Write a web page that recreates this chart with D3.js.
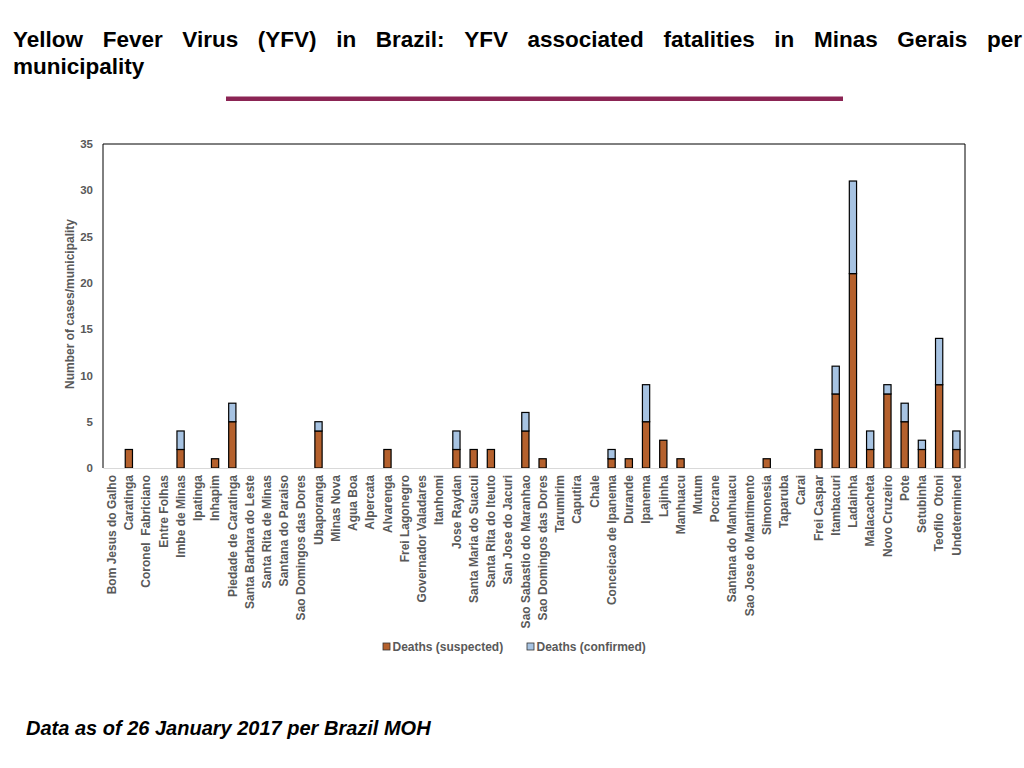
<!DOCTYPE html>
<html>
<head>
<meta charset="utf-8">
<script src="https://cdn.jsdelivr.net/npm/d3@7"></script>
<style>
  body { margin: 0; background: #fff; }
  svg { display: block; }
</style>
</head>
<body>
<div id="chart"></div>
<script>
// municipalities, in the order of the x axis
const municipalities = [
  "Bom Jesus do Galho", "Caratinga", "Coronel  Fabriciano", "Entre Folhas", "Imbe de Minas",
  "Ipatinga", "Inhapim", "Piedade de Caratinga", "Santa Barbara do Leste", "Santa Rita de Minas",
  "Santana do Paraiso", "Sao Domingos das Dores", "Ubaporanga", "Minas Nova", "Agua Boa",
  "Alpercata", "Alvarenga", "Frei Lagonegro", "Governador Valadares", "Itanhomi",
  "Jose Raydan", "Santa Maria do Suacui", "Santa Rita do Iteuto", "San Jose do Jacuri", "Sao Sabastio do Maranhao",
  "Sao Domingos das Dores", "Tarumirim", "Caputira", "Chale", "Conceicao de Ipanema",
  "Durande", "Ipanema", "Lajinha", "Manhuacu", "Mutum",
  "Pocrane", "Santana do Manhuacu", "Sao Jose do Mantimento", "Simonesia", "Taparuba",
  "Carai", "Frei Caspar", "Itambacuri", "Ladainha", "Malacacheta",
  "Novo Cruzeiro", "Pote", "Setubinha", "Teofilo  Otoni", "Undetermined"
];

const deathsSuspected = [
  0, 2, 0, 0, 2,  0, 1, 5, 0, 0,  0, 0, 4, 0, 0,  0, 2, 0, 0, 0,
  2, 2, 2, 0, 4,  1, 0, 0, 0, 1,  1, 5, 3, 1, 0,  0, 0, 0, 1, 0,
  0, 2, 8, 21, 2, 8, 5, 2, 9, 2
];

const deathsConfirmed = [
  0, 0, 0, 0, 2,  0, 0, 2, 0, 0,  0, 0, 1, 0, 0,  0, 0, 0, 0, 0,
  2, 0, 0, 0, 2,  0, 0, 0, 0, 1,  0, 4, 0, 0, 0,  0, 0, 0, 0, 0,
  0, 0, 3, 10, 2, 1, 2, 1, 5, 2
];

const seriesNames = ["Deaths (suspected)", "Deaths (confirmed)"];
const yTicks = [0, 5, 10, 15, 20, 25, 30, 35];

const titleLines = [
  "Yellow Fever Virus (YFV) in Brazil: YFV associated fatalities in Minas Gerais per",
  "municipality"
];
const footnote = "Data as of 26 January 2017 per Brazil MOH";

const width = 1024, height = 768;
const plot = { left: 103, right: 965, top: 144, bottom: 468 };
const colors = ["#b5612d", "#a7c3e2"];
const grey = "#595959";
const sans = "'Liberation Sans', Arial, Helvetica, sans-serif";

const svg = d3.select("#chart").append("svg")
    .attr("width", width)
    .attr("height", height);

// table for the stack layout
const table = municipalities.map((m, i) => ({
  key: i, name: m, suspected: deathsSuspected[i], confirmed: deathsConfirmed[i]
}));
const stack = d3.stack().keys(["suspected", "confirmed"])(table);

const x = d3.scaleBand()
    .domain(table.map(d => d.key))
    .range([plot.left, plot.right])
    .paddingInner(0.58)
    .paddingOuter(0.29);

const y = d3.scaleLinear()
    .domain([0, 35])
    .range([plot.bottom, plot.top]);

// title, justified on the first line
const title = svg.append("g")
    .style("font-family", sans)
    .style("font-weight", "bold")
    .style("font-size", "22.5px")
    .attr("fill", "#000");

function justifyLine(text, x0, x1, yBase) {
  const words = text.split(" ");
  const nodes = words.map(w => title.append("text").attr("y", yBase).text(w));
  const widths = nodes.map(n => n.node().getComputedTextLength());
  const gap = (x1 - x0 - d3.sum(widths)) / (words.length - 1);
  let cx = x0;
  nodes.forEach((n, i) => { n.attr("x", cx); cx += widths[i] + gap; });
}
justifyLine(titleLines[0], 13, 1022, 47);
title.append("text").attr("x", 13).attr("y", 74).text(titleLines[1]);

svg.append("rect")
    .attr("x", 226).attr("y", 96.5)
    .attr("width", 617).attr("height", 4.5)
    .attr("fill", "#8b2454");

// frame of the plot area
svg.append("path")
    .attr("d", `M${plot.left},${plot.bottom}V${plot.top}H${plot.right}V${plot.bottom}`)
    .attr("fill", "none")
    .attr("stroke", "#000")
    .attr("stroke-width", 1);

// stacked bars
svg.append("g")
  .selectAll("g")
  .data(stack)
  .join("g")
    .attr("fill", (d, i) => colors[i])
  .selectAll("rect")
  .data(d => d.filter(p => p[1] - p[0] > 0))
  .join("rect")
    .attr("x", d => x(d.data.key))
    .attr("y", d => y(d[1]))
    .attr("width", x.bandwidth())
    .attr("height", d => y(d[0]) - y(d[1]))
    .attr("stroke", "#000")
    .attr("stroke-width", 1.2);

// x axis
const xAxis = svg.append("g")
    .attr("transform", `translate(0,${plot.bottom})`)
    .call(d3.axisBottom(x).tickSize(0).tickFormat(k => municipalities[k]));
xAxis.select(".domain").attr("stroke", "#d9d9d9");
xAxis.selectAll("text")
    .attr("transform", "rotate(-90)")
    .attr("x", -7)
    .attr("y", 0)
    .attr("dy", "0.35em")
    .attr("text-anchor", "end")
    .style("white-space", "pre")
    .style("font-family", sans)
    .style("font-weight", "bold")
    .style("font-size", "12px")
    .attr("fill", grey);

// y axis
const yAxis = svg.append("g")
    .attr("transform", `translate(${plot.left},0)`)
    .call(d3.axisLeft(y).tickValues(yTicks).tickSize(0).tickPadding(10));
yAxis.select(".domain").remove();
yAxis.selectAll("text")
    .style("font-family", sans)
    .style("font-weight", "bold")
    .style("font-size", "11.5px")
    .attr("fill", grey);

svg.append("text")
    .attr("transform", `translate(74,${(plot.top + plot.bottom) / 2 - 2}) rotate(-90)`)
    .attr("text-anchor", "middle")
    .style("font-family", sans)
    .style("font-weight", "bold")
    .style("font-size", "12px")
    .attr("fill", grey)
    .text("Number of cases/municipality");

// legend
const legendX = [383, 527];
const legend = svg.append("g")
  .selectAll("g")
  .data(seriesNames)
  .join("g")
    .attr("transform", (d, i) => `translate(${legendX[i]},643)`);
legend.append("rect")
    .attr("width", 7).attr("height", 7)
    .attr("fill", (d, i) => colors[i])
    .attr("stroke", "#333")
    .attr("stroke-width", 0.8);
legend.append("text")
    .attr("x", 9.5).attr("y", 3.5).attr("dy", "0.35em")
    .style("font-family", sans)
    .style("font-weight", "bold")
    .style("font-size", "12px")
    .attr("fill", grey)
    .text(d => d);

// footnote
svg.append("text")
    .attr("x", 26).attr("y", 735)
    .style("font-family", sans)
    .style("font-weight", "bold")
    .style("font-style", "italic")
    .style("font-size", "20px")
    .attr("fill", "#000")
    .text(footnote);
</script>
</body>
</html>
